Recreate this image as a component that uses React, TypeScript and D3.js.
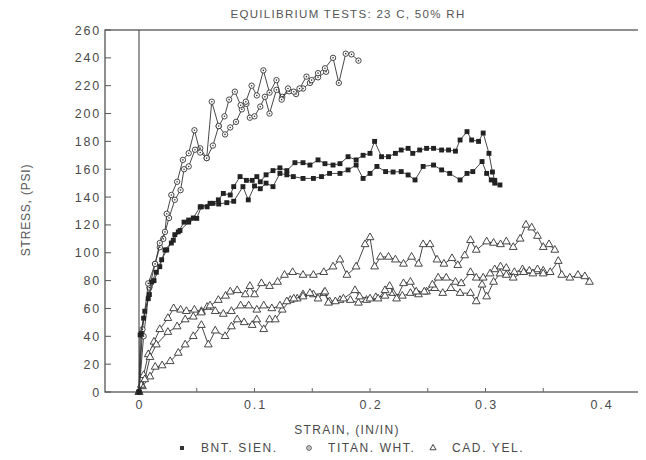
import React, { useEffect, useRef } from 'react'
import * as d3 from 'd3'

// strain (in/in), stress (psi)
const bntSien1 = [
  [0, 0], [0.001, 41], [0.004, 53], [0.008, 67], [0.011, 79], [0.015, 86], [0.0196, 95], [0.024, 102],
  [0.028, 107], [0.031, 113], [0.034, 115], [0.039, 122], [0.043, 123.5], [0.047, 125], [0.053, 133],
  [0.059, 133], [0.064, 135.5], [0.0687, 138], [0.073, 142.6], [0.079, 141.5], [0.082, 147.5],
  [0.0875, 154.7], [0.093, 152], [0.098, 152], [0.102, 154.7], [0.105, 151], [0.11, 156], [0.116, 159],
  [0.122, 161], [0.128, 159], [0.135, 164.7], [0.142, 164.7], [0.148, 163], [0.155, 166.7], [0.161, 164],
  [0.168, 163], [0.174, 164], [0.181, 169], [0.188, 166.7], [0.194, 170], [0.2, 171.4], [0.204, 180],
  [0.21, 169], [0.216, 169], [0.222, 171.4], [0.227, 173.8], [0.233, 175], [0.237, 171.4], [0.243, 173.8],
  [0.249, 175], [0.255, 175], [0.262, 173.8], [0.268, 173.8], [0.274, 173], [0.278, 181], [0.284, 187],
  [0.288, 181], [0.294, 180], [0.298, 186], [0.303, 171.4], [0.306, 158], [0.308, 152],
]
const bntSien2 = [
  [0, 0], [0.002, 42], [0.005, 58], [0.009, 70], [0.013, 80], [0.018, 90], [0.0225, 102], [0.0297, 109],
  [0.0355, 116], [0.043, 122], [0.05, 124.7], [0.054, 133], [0.0615, 135.5], [0.069, 135], [0.076, 136],
  [0.082, 137], [0.09, 147.5], [0.0946, 138], [0.1, 148], [0.105, 146], [0.11, 150], [0.116, 147.5],
  [0.122, 157], [0.128, 156], [0.1336, 154.7], [0.142, 153.4], [0.151, 153.4], [0.158, 154.7], [0.165, 157],
  [0.174, 157], [0.181, 159.5], [0.188, 163], [0.194, 153.4], [0.2, 157], [0.206, 162], [0.2135, 158.3],
  [0.22, 158], [0.227, 158.3], [0.233, 155.9], [0.239, 152.3], [0.246, 162], [0.255, 163], [0.262, 159.5],
  [0.269, 157], [0.278, 152.3], [0.284, 157], [0.289, 158.3], [0.297, 165.5], [0.301, 157], [0.305, 152.3],
  [0.308, 150], [0.3125, 148.7],
]
const titanWht1 = [
  [0, 0], [0.003, 45], [0.008, 78], [0.0139, 92], [0.018, 107], [0.0225, 115], [0.024, 128], [0.028, 141.5],
  [0.033, 151], [0.038, 166.7], [0.043, 171.5], [0.048, 188], [0.053, 172], [0.0586, 168], [0.063, 208.5],
  [0.069, 191], [0.074, 198], [0.078, 210], [0.083, 215.7], [0.088, 206], [0.0925, 208.5], [0.0975, 220],
  [0.102, 213], [0.1077, 231], [0.113, 215], [0.119, 224], [0.1235, 210], [0.129, 218], [0.134, 215.7],
  [0.139, 218], [0.145, 226.5], [0.1495, 224], [0.155, 229], [0.161, 232.5], [0.168, 240], [0.173, 222],
  [0.179, 243], [0.184, 242.5], [0.19, 238],
]
const titanWht2 = [
  [0, 0], [0.004, 40], [0.009, 75], [0.0139, 92], [0.018, 104], [0.021, 110], [0.026, 125], [0.031, 138],
  [0.036, 145], [0.039, 160], [0.043, 162], [0.0485, 174], [0.053, 175], [0.0586, 168], [0.064, 177],
  [0.069, 191], [0.0745, 185], [0.079, 190], [0.084, 194], [0.089, 203], [0.093, 207], [0.096, 197],
  [0.1, 198], [0.105, 205], [0.109, 212], [0.113, 200], [0.119, 217], [0.124, 212], [0.13, 216],
  [0.136, 214], [0.142, 218], [0.148, 222], [0.155, 226], [0.162, 230],
]
const cadYel1 = [
  [0, 0], [0.005, 9], [0.0095, 25], [0.015, 34], [0.025, 43], [0.033, 47], [0.04, 52], [0.047, 54],
  [0.054, 57], [0.0615, 62], [0.0687, 66], [0.075, 69], [0.079, 72], [0.085, 73], [0.092, 70], [0.096, 76],
  [0.1, 70], [0.106, 78], [0.113, 76], [0.12, 79], [0.126, 84], [0.133, 86], [0.142, 84], [0.151, 84],
  [0.16, 86], [0.168, 90], [0.174, 95], [0.18, 84], [0.188, 90], [0.1957, 106], [0.2, 111], [0.204, 90],
  [0.209, 97], [0.216, 97], [0.222, 95], [0.229, 92], [0.236, 97], [0.242, 92], [0.246, 106], [0.252, 106],
  [0.258, 95], [0.264, 92], [0.271, 96], [0.276, 91], [0.282, 98], [0.287, 109], [0.292, 102], [0.301, 108],
  [0.307, 107], [0.313, 106], [0.318, 108], [0.324, 104], [0.33, 110], [0.335, 120], [0.34, 118],
  [0.345, 112], [0.35, 104], [0.355, 106], [0.36, 102],
]
const cadYel2 = [
  [0, 0], [0.002, 5], [0.004, 12], [0.008, 27], [0.013, 36], [0.018, 45], [0.025, 53], [0.03, 60],
  [0.036, 59], [0.041, 58], [0.048, 59], [0.054, 58], [0.059, 61], [0.066, 58], [0.073, 56], [0.08, 58],
  [0.088, 62], [0.095, 62], [0.102, 59], [0.108, 62], [0.115, 60], [0.122, 62], [0.128, 65], [0.134, 67],
  [0.142, 68.5], [0.148, 71], [0.155, 67], [0.161, 72], [0.164, 64], [0.17, 65], [0.177, 67], [0.187, 73],
  [0.191, 68.5], [0.2, 67], [0.207, 67], [0.213, 73], [0.217, 76], [0.223, 67], [0.229, 78], [0.235, 79],
  [0.24, 72], [0.247, 72], [0.254, 77], [0.259, 82], [0.266, 82], [0.274, 79], [0.279, 78], [0.287, 86],
  [0.292, 82], [0.298, 82], [0.304, 85], [0.308, 88], [0.313, 90], [0.318, 89], [0.324, 82], [0.333, 86],
  [0.341, 85], [0.35, 85], [0.356, 86], [0.363, 94], [0.366, 84], [0.373, 82], [0.38, 84], [0.386, 83],
  [0.39, 79],
]
const cadYel3 = [
  [0, 0], [0.003, 4], [0.0095, 11], [0.014, 18], [0.02, 19], [0.027, 22], [0.034, 28], [0.04, 34],
  [0.047, 40], [0.054, 48], [0.06, 34], [0.066, 44], [0.0745, 40], [0.08, 47], [0.085, 52], [0.091, 50],
  [0.098, 48], [0.102, 52], [0.108, 45], [0.113, 52], [0.118, 52], [0.124, 59], [0.131, 66], [0.137, 67],
  [0.142, 70], [0.151, 70], [0.16, 71], [0.165, 65], [0.174, 66], [0.183, 66], [0.19, 64], [0.197, 66],
  [0.205, 68], [0.213, 69], [0.22, 71], [0.228, 69], [0.235, 71], [0.242, 70], [0.249, 72], [0.256, 74.5],
  [0.263, 71], [0.27, 74.5], [0.278, 71], [0.287, 71], [0.292, 65], [0.297, 77], [0.301, 68.5], [0.307, 79],
  [0.3125, 85], [0.318, 84], [0.325, 86], [0.332, 88], [0.338, 87], [0.345, 88], [0.35, 87],
]

const strainTicks = [0, 0.1, 0.2, 0.3, 0.4]
const strainMinorTicks = [0.05, 0.1, 0.15, 0.2, 0.25, 0.3, 0.35]
const stressTicks = [0, 20, 40, 60, 80, 100, 120, 140, 160, 180, 200, 220, 240, 260]
const legendItems = ['BNT. SIEN.', 'TITAN. WHT.', 'CAD. YEL.']

const ink = '#333'
const textInk = '#4a4a4a'
const font = '"Liberation Sans", Arial, sans-serif'

export default function App() {
  const ref = useRef(null)

  useEffect(() => {
    const W = 646,
      H = 460
    const margin = { top: 30, left: 105 },
      width = 538,
      height = 362

    const root = d3.select(ref.current)
    root.selectAll('*').remove()
    const svg = root
      .append('svg')
      .attr('width', W)
      .attr('height', H)
      .style('display', 'block')
      .style('background', '#fff')

    // title (the old plotter lettering is wide, so letter-spacing)
    svg
      .append('text')
      .attr('x', 348)
      .attr('y', 18)
      .attr('text-anchor', 'middle')
      .style('font-family', font)
      .style('font-size', '11.5px')
      .style('letter-spacing', '1.3px')
      .style('fill', '#555')
      .text('EQUILIBRIUM TESTS: 23 C, 50% RH')

    const g = svg.append('g').attr('transform', 'translate(' + margin.left + ',' + margin.top + ')')

    const x = d3.scaleLinear().domain([0, 0.4]).range([34, 496])
    const y = d3.scaleLinear().domain([0, 260]).range([height, 0])

    // frame
    g.append('rect')
      .attr('width', width)
      .attr('height', height)
      .style('fill', 'none')
      .style('stroke', '#555')
      .style('stroke-width', 1.3)

    // vertical line at zero strain
    g.append('line')
      .attr('x1', x(0))
      .attr('x2', x(0))
      .attr('y1', 0)
      .attr('y2', height)
      .style('stroke', '#555')
      .style('stroke-width', 1.2)

    // y ticks + labels
    const yt = g.selectAll('.ytick').data(stressTicks).enter().append('g')
    yt.append('line')
      .attr('x1', 0)
      .attr('x2', 6)
      .attr('y1', (d) => y(d))
      .attr('y2', (d) => y(d))
      .style('stroke', '#555')
    yt.append('text')
      .attr('x', -4)
      .attr('y', (d) => y(d))
      .attr('dy', '0.36em')
      .attr('text-anchor', 'end')
      .style('font-family', font)
      .style('font-size', '12.5px')
      .style('letter-spacing', '1.8px')
      .style('fill', textInk)
      .text((d) => d)

    // x ticks + labels
    g.selectAll('.xminor')
      .data(strainMinorTicks)
      .enter()
      .append('line')
      .attr('x1', (d) => x(d))
      .attr('x2', (d) => x(d))
      .attr('y1', height)
      .attr('y2', height - 4)
      .style('stroke', '#666')
    g.selectAll('.xlab')
      .data(strainTicks)
      .enter()
      .append('text')
      .attr('x', (d) => x(d) + 1)
      .attr('y', height + 17)
      .attr('text-anchor', 'middle')
      .style('font-family', font)
      .style('font-size', '12.5px')
      .style('letter-spacing', '1.8px')
      .style('fill', textInk)
      .text((d) => (d === 0 ? '0' : d3.format('.1f')(d)))

    // axis titles
    svg
      .append('text')
      .attr('x', 347)
      .attr('y', 434)
      .attr('text-anchor', 'middle')
      .style('font-family', font)
      .style('font-size', '12px')
      .style('letter-spacing', '1.3px')
      .style('fill', textInk)
      .text('STRAIN, (IN/IN)')
    svg
      .append('text')
      .attr('transform', 'translate(30,210) rotate(-90)')
      .attr('text-anchor', 'middle')
      .style('font-family', font)
      .style('font-size', '12px')
      .style('letter-spacing', '0.8px')
      .style('fill', '#555')
      .text('STRESS, (PSI)')

    const line = d3
      .line()
      .x((d) => x(d[0]))
      .y((d) => y(d[1]))

    const square = d3.symbol().type(d3.symbolSquare).size(24)
    const triangle = d3.symbol().type(d3.symbolTriangle).size(26)

    const drawCurve = function (data, kind) {
      g.append('path')
        .datum(data)
        .attr('d', line)
        .style('fill', 'none')
        .style('stroke', ink)
        .style('stroke-width', 0.9)
      const pts = g.append('g').selectAll('g').data(data).enter().append('g')
        .attr('transform', (d) => 'translate(' + x(d[0]) + ',' + y(d[1]) + ')')
      if (kind === 'square') {
        pts.append('path').attr('d', square).style('fill', '#222')
      } else if (kind === 'circle') {
        pts.append('circle').attr('r', 2.7).style('fill', '#fff').style('stroke', ink).style('stroke-width', 0.9)
        pts.append('circle').attr('r', 0.8).style('fill', ink)
      } else {
        pts.append('path').attr('d', triangle).style('fill', '#fff').style('stroke', ink).style('stroke-width', 0.9)
      }
    }

    drawCurve(cadYel3, 'triangle')
    drawCurve(cadYel2, 'triangle')
    drawCurve(cadYel1, 'triangle')
    drawCurve(titanWht2, 'circle')
    drawCurve(titanWht1, 'circle')
    drawCurve(bntSien2, 'square')
    drawCurve(bntSien1, 'square')

    // legend
    const lg = svg.append('g').attr('transform', 'translate(0,448)')
    const legendX = [182, 309, 433]
    legendItems.forEach(function (name, i) {
      const m = lg.append('g').attr('transform', 'translate(' + legendX[i] + ',0)')
      if (i === 0) m.append('path').attr('d', d3.symbol().type(d3.symbolSquare).size(16)).style('fill', '#333')
      if (i === 1) {
        m.append('circle').attr('r', 2.3).style('fill', 'none').style('stroke', '#444')
        m.append('circle').attr('r', 0.7).style('fill', '#444')
      }
      if (i === 2) m.append('path').attr('d', d3.symbol().type(d3.symbolTriangle).size(16)).style('fill', 'none').style('stroke', '#444')
      lg.append('text')
        .attr('x', legendX[i] + 19)
        .attr('y', 0)
        .attr('dy', '0.36em')
        .style('font-family', font)
        .style('font-size', '12px')
        .style('letter-spacing', '1.6px')
        .style('fill', textInk)
        .text(name)
    })
  }, [])

  return <div ref={ref} style={{ margin: -8 }}></div>
}
